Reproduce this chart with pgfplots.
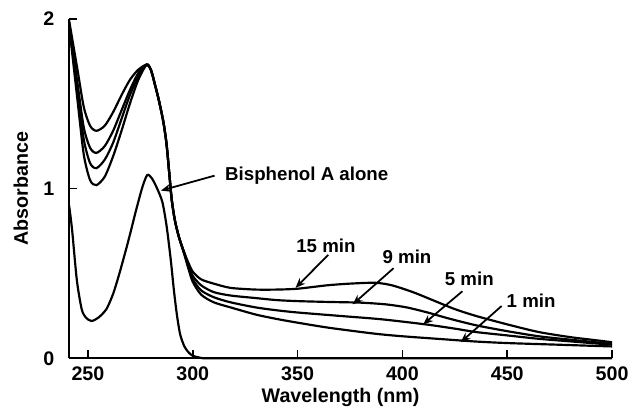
\documentclass[border=0pt]{standalone}
\usepackage{pgfplots}
\pgfplotsset{compat=1.18}
\usepackage{fontspec}
\setmainfont{Liberation Sans}
\usetikzlibrary{arrows.meta}
\begin{document}
\begin{tikzpicture}
\begin{axis}[
  scale only axis, width=275bp, height=172bp,
  xmin=241, xmax=500, ymin=0, ymax=2,
  axis x line=bottom, axis y line=left,
  axis line style={-, line width=1bp},
  xtick={250,300,350,400,450,500}, ytick={0,1,2},
  tick align=inside, major tick length=4bp,
  tick style={line width=0.8bp, black},
  /pgf/number format/assume math mode=true,
  ticklabel style={font=\bfseries\fontsize{10}{11}\selectfont},
  xticklabel style={yshift=-1bp},
  yticklabel style={xshift=-4bp},
  xlabel={Wavelength (nm)}, ylabel={Absorbance},
  label style={font=\bfseries\fontsize{10}{11}\selectfont},
  xlabel style={at={(axis description cs:0.5,-0.1163)}, anchor=center},
  ylabel style={at={(axis description cs:-0.089,0.5)}, anchor=center, rotate=0},
  clip=false,
  cycle list={{black, no markers}},
  curve/.style={black, no markers, line width=1.1bp, smooth, tension=0.45},
]
% Bisphenol A alone
\addplot[curve] coordinates {(241,0.90) (242.4,0.76) (244.7,0.46) (247,0.29) (249,0.24) (251.7,0.22) (255,0.24) (258.8,0.29) (262,0.38) (265,0.50) (269,0.68) (272.9,0.87) (276,1.01) (278.3,1.08) (280.5,1.06) (283,1.00) (285.5,0.92) (287.5,0.78) (289.5,0.58) (291,0.40) (292.5,0.25) (294,0.14) (296,0.07) (298,0.035) (300,0.015) (303,0.005) (306,0.0) (320,0.0) (500,0.0)};
% 15 min
\addplot[curve] coordinates {(241,1.99) (245,1.70) (248,1.48) (251,1.37) (254,1.34) (258,1.37) (262,1.45) (266,1.55) (270,1.64) (274,1.70) (278,1.73) (280,1.70) (282,1.61) (284,1.51) (286,1.39) (287.5,1.26) (289,1.06) (290,0.93) (291.5,0.81) (293.5,0.71) (296,0.62) (298,0.56) (300,0.51) (304,0.465) (310,0.44) (318,0.415) (330,0.405) (340,0.405) (350,0.41) (364,0.43) (375,0.44) (387,0.445) (395,0.43) (405,0.39) (415,0.34) (425,0.29) (435,0.25) (450,0.20) (465,0.155) (480,0.125) (490,0.11) (500,0.095)};
% 9 min
\addplot[curve] coordinates {(241,1.98) (245,1.62) (248,1.36) (251,1.24) (254,1.21) (258,1.25) (262,1.34) (266,1.46) (270,1.58) (274,1.68) (278,1.73) (280,1.70) (282,1.61) (284,1.51) (286,1.39) (287.5,1.26) (289,1.06) (290,0.93) (291.5,0.81) (293.5,0.71) (296,0.62) (298,0.545) (300,0.485) (304,0.43) (310,0.39) (318,0.37) (330,0.355) (340,0.343) (350,0.337) (365,0.332) (380,0.328) (392,0.318) (402,0.30) (412,0.27) (422,0.235) (435,0.195) (450,0.16) (465,0.13) (480,0.11) (500,0.085)};
% 5 min
\addplot[curve] coordinates {(241,1.97) (245,1.58) (248,1.29) (251,1.15) (254,1.12) (258,1.17) (262,1.27) (266,1.41) (270,1.55) (274,1.66) (278,1.73) (280,1.70) (282,1.61) (284,1.51) (286,1.39) (287.5,1.26) (289,1.06) (290,0.93) (291.5,0.81) (293.5,0.71) (296,0.615) (298,0.535) (300,0.465) (304,0.40) (310,0.36) (318,0.33) (330,0.30) (340,0.283) (350,0.27) (370,0.25) (390,0.23) (411,0.20) (425,0.175) (435,0.155) (450,0.135) (465,0.115) (480,0.10) (500,0.08)};
% 1 min
\addplot[curve] coordinates {(241,1.96) (245,1.52) (248,1.20) (251,1.05) (254,1.02) (258,1.07) (262,1.19) (266,1.34) (270,1.50) (274,1.64) (278,1.73) (280,1.70) (282,1.61) (284,1.51) (286,1.39) (287.5,1.26) (289,1.06) (290,0.93) (291.5,0.81) (293.5,0.71) (296,0.61) (298,0.525) (300,0.45) (304,0.375) (310,0.33) (318,0.30) (330,0.258) (340,0.232) (350,0.21) (365,0.18) (387,0.145) (400,0.13) (420,0.112) (435,0.099) (450,0.09) (475,0.08) (500,0.07)};
% annotations
\begin{scope}[line width=0.9bp, -{Stealth[length=5bp,width=4bp]}]
\draw (axis cs:310.4,1.076) -- (axis cs:284.8,0.988);
\draw (axis cs:364.6,0.609) -- (axis cs:349,0.415);
\draw (axis cs:395.8,0.531) -- (axis cs:376.3,0.318);
\draw (axis cs:428.6,0.395) -- (axis cs:409.9,0.20);
\draw (axis cs:447.3,0.308) -- (axis cs:427.8,0.095);
\end{scope}
\begin{scope}[font=\bfseries\fontsize{9.5}{11}\selectfont, inner sep=0pt]
\node[anchor=west] at (axis cs:315.3,1.076) {Bisphenol A alone};
\node at (axis cs:363.5,0.665) {15 min};
\node at (axis cs:402.2,0.595) {9 min};
\node at (axis cs:431.9,0.47) {5 min};
\node at (axis cs:461.4,0.337) {1 min};
\end{scope}
\end{axis}
\path ([xshift=-35bp,yshift=-24.5bp]current axis.south west) rectangle ([xshift=7.5bp,yshift=9.5bp]current axis.north east);
\end{tikzpicture}
\end{document}
